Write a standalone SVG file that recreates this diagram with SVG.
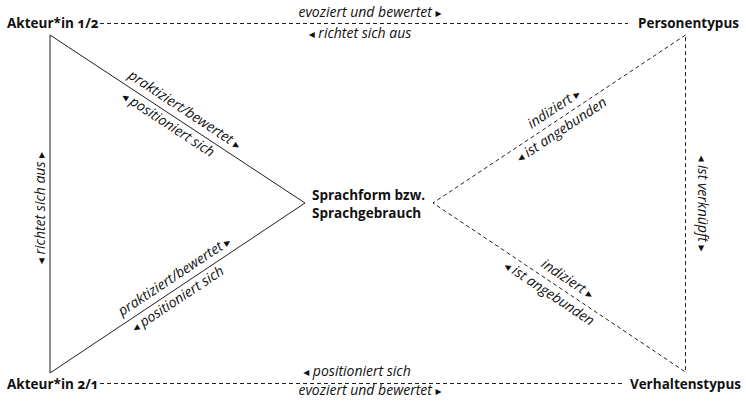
<svg xmlns="http://www.w3.org/2000/svg" width="746" height="404" viewBox="0 0 746 404">
<style>
.node{font-family:"Open Sans","Noto Sans","DejaVu Sans",sans-serif;font-weight:bold;font-size:13.5px;fill:#111}
.lbl{font-family:"Open Sans","Noto Sans","DejaVu Sans",sans-serif;font-style:italic;font-size:14px;fill:#111}
.tri{font-family:"DejaVu Sans",sans-serif;font-style:normal;font-size:12px}
.solid{stroke:#231f20;stroke-width:1;fill:none}
.dash{stroke:#231f20;stroke-width:1;fill:none;stroke-dasharray:4 3}
.num{font-variant-numeric:oldstyle-nums}
</style>
<rect width="746" height="404" fill="#fff"/>
<g id="connectors">
  <path class="solid" d="M50 35 L305 203 L50 373 Z"/>
  <path class="dash" d="M685.5 35 L433 203 L685.5 372 Z"/>
  <line class="dash" x1="100" y1="23.5" x2="628" y2="23.5"/>
  <line class="dash" x1="100" y1="383.5" x2="622" y2="383.5"/>
</g>
<g id="edge-labels">
  <text class="lbl" x="370" y="17" text-anchor="middle">evoziert und bewertet <tspan class="tri">▸</tspan></text>
  <text class="lbl" x="360" y="38" text-anchor="middle"><tspan class="tri">◂</tspan> richtet sich aus</text>
  <text class="lbl" x="357" y="376" text-anchor="middle"><tspan class="tri">◂</tspan> positioniert sich</text>
  <text class="lbl" x="370" y="395" text-anchor="middle">evoziert und bewertet <tspan class="tri">▸</tspan></text>
  <g transform="translate(177.5 119) rotate(33.38)">
    <text class="lbl" x="1" y="-7" text-anchor="middle">praktiziert/bewertet <tspan class="tri">▸</tspan></text>
    <text class="lbl" x="-5" y="14" text-anchor="middle"><tspan class="tri">◂</tspan> positioniert sich</text>
  </g>
  <g transform="translate(177.5 288) rotate(-33.53)">
    <text class="lbl" x="4" y="-7" text-anchor="middle">praktiziert/bewertet <tspan class="tri">▸</tspan></text>
    <text class="lbl" x="-6" y="14" text-anchor="middle"><tspan class="tri">◂</tspan> positioniert sich</text>
  </g>
  <g transform="translate(559 119) rotate(-33.69)">
    <text class="lbl" x="1.5" y="-7" text-anchor="middle">indiziert <tspan class="tri">▸</tspan></text>
    <text class="lbl" x="-4" y="15" text-anchor="middle"><tspan class="tri">◂</tspan> ist angebunden</text>
  </g>
  <g transform="translate(559.5 287.5) rotate(33.74)">
    <text class="lbl" x="2" y="-7" text-anchor="middle">indiziert <tspan class="tri">▸</tspan></text>
    <text class="lbl" x="-5.5" y="15" text-anchor="middle"><tspan class="tri">◂</tspan> ist angebunden</text>
  </g>
  <g transform="translate(685.5 203.5) rotate(90)">
    <text class="lbl" x="0" y="-12.5" text-anchor="middle"><tspan class="tri">◂</tspan> ist verknüpft <tspan class="tri">▸</tspan></text>
  </g>
  <g transform="translate(50 208) rotate(-90)">
    <text class="lbl" x="0" y="-5" text-anchor="middle"><tspan class="tri">◂</tspan> richtet sich aus <tspan class="tri">▸</tspan></text>
  </g>
</g>
<g id="akteur1"><text class="node" x="7" y="28">Akteur*in <tspan class="num">1/2</tspan></text></g>
<g id="akteur2"><text class="node" x="7" y="389">Akteur*in <tspan class="num">2/1</tspan></text></g>
<g id="personentypus"><text class="node" x="739" y="27.5" text-anchor="end">Personentypus</text></g>
<g id="verhaltenstypus"><text class="node" x="741" y="389" text-anchor="end">Verhaltenstypus</text></g>
<g id="sprachform"><text class="node" x="312" y="200">Sprachform bzw.<tspan x="312" dy="18">Sprachgebrauch</tspan></text></g>
</svg>
